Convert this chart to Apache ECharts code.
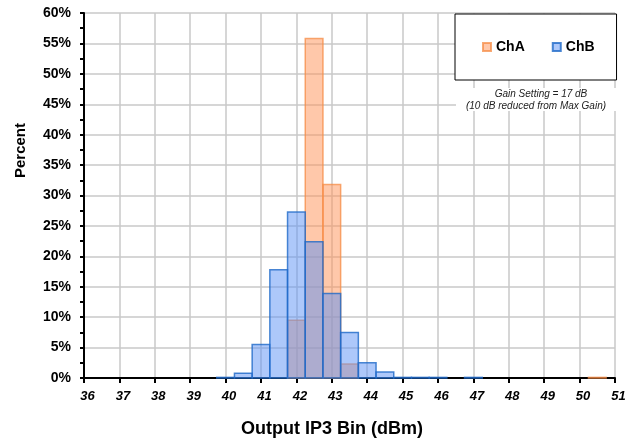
<!DOCTYPE html>
<html><head><meta charset="utf-8">
<script src="https://cdn.jsdelivr.net/npm/echarts@6/dist/echarts.min.js"></script>
<style>html,body{margin:0;padding:0;background:#fff}#c{width:631px;height:444px}</style>
</head><body><div id="c"></div>
<script>
var binWidth = 0.5;
var binsA = [42, 42.5, 43, 43.5, 50.5];
var valsA = [9.5, 55.8, 31.8, 2.3, 0.1];
var binsB = [40, 40.5, 41, 41.5, 42, 42.5, 43, 43.5, 44, 44.5, 45, 45.5, 46, 47];
var valsB = [0.1, 0.8, 5.5, 17.8, 27.3, 22.4, 13.9, 7.5, 2.5, 1.0, 0.1, 0.1, 0.1, 0.1];
var xTicks = [36,37,38,39,40,41,42,43,44,45,46,47,48,49,50,51];

function pairs(b, v){ return b.map(function(x,i){ return [x, v[i]]; }); }

function renderBar(params, api){
  var x = api.value(0), y = api.value(1);
  var p1 = api.coord([x - binWidth/2, y]);
  var p2 = api.coord([x + binWidth/2, 0]);
  return {
    type: 'rect',
    shape: {x: p1[0], y: p1[1], width: p2[0]-p1[0], height: p2[1]-p1[1]},
    style: api.style()
  };
}

var chart = echarts.init(document.getElementById('c'));
var FONT = 'Liberation Sans, Arial, sans-serif';
chart.setOption({
  animation: false,
  textStyle: {fontFamily: FONT},
  grid: {left: 84, right: 16, top: 13, bottom: 66},
  legend: {
    left: 455, top: 14,
    padding: [26, 22, 26, 27],
    itemGap: 27,
    itemWidth: 8, itemHeight: 8,
    borderColor: '#000', borderWidth: 1,
    backgroundColor: '#fff',
    textStyle: {fontFamily: FONT, fontWeight: 'bold', fontSize: 14, color: '#000', padding: [0,0,0,0]},
    data: [{name: 'ChA', icon: 'rect'}, {name: 'ChB', icon: 'rect'}]
  },
  xAxis: {
    type: 'value', min: 36, max: 51, interval: 1,
    axisLine: {show: true, onZero: false, lineStyle: {color: '#000', width: 2}},
    axisTick: {show: true, length: 5, lineStyle: {color: '#000', width: 2}},
    splitLine: {show: true, lineStyle: {color: '#c9c9c9', width: 1.5}},
    axisLabel: {fontFamily: FONT, fontWeight: 'bold', fontStyle: 'italic', fontSize: 13, color: '#000', margin: 12,
      padding: [0, 0, 0, 7],
      formatter: function(v){ return xTicks.indexOf(v) >= 0 ? String(v) : ''; }},
    name: 'Output IP3 Bin (dBm)', nameLocation: 'middle', nameGap: 42,
    nameTextStyle: {fontFamily: FONT, fontWeight: 'bold', fontSize: 18, color: '#000', padding: [0, 35, 0, 0]}
  },
  yAxis: {
    type: 'value', min: 0, max: 60, interval: 5,
    axisLine: {show: true, lineStyle: {color: '#000', width: 2}},
    axisTick: {show: true, length: 4, lineStyle: {color: '#000', width: 2}},
    minorTick: {show: true, splitNumber: 2, length: 4, lineStyle: {color: '#000', width: 2}},
    splitLine: {show: true, lineStyle: {color: '#c9c9c9', width: 1.5}},
    axisLabel: {fontFamily: FONT, fontWeight: 'bold', fontSize: 14, color: '#000', margin: 13, formatter: '{value}%'},
    name: 'Percent', nameLocation: 'middle', nameGap: 56,
    nameTextStyle: {fontFamily: FONT, fontWeight: 'bold', fontSize: 15, color: '#000', padding: [0, 0, 0, 90]}
  },
  graphic: [
    {type: 'rect', z: 5, shape: {x: 456, y: 88, width: 160, height: 23}, style: {fill: '#fff'}},
    {type: 'text', z: 6, x: 541, y: 89, style: {text: 'Gain Setting = 17 dB', fontFamily: FONT, fontStyle: 'italic', fontSize: 10, fill: '#222', textAlign: 'center'}},
    {type: 'text', z: 6, x: 536, y: 101, style: {text: '(10 dB reduced from Max Gain)', fontFamily: FONT, fontStyle: 'italic', fontSize: 10, fill: '#222', textAlign: 'center'}}
  ],
  series: [
    {name: 'ChA', type: 'custom', renderItem: renderBar, data: pairs(binsA, valsA),
     encode: {x: 0, y: 1},
     itemStyle: {color: 'rgba(255,145,85,0.5)', borderColor: 'rgba(245,140,70,0.75)', borderWidth: 1.5}},
    {name: 'ChB', type: 'custom', renderItem: renderBar, data: pairs(binsB, valsB),
     encode: {x: 0, y: 1},
     itemStyle: {color: 'rgba(91,145,245,0.5)', borderColor: 'rgba(30,105,200,0.8)', borderWidth: 1.5}}
  ]
});
</script></body></html>
